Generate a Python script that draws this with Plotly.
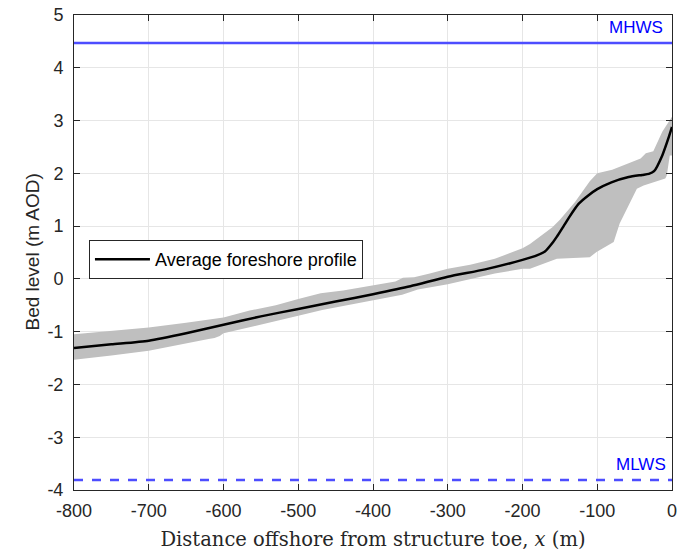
import plotly.graph_objects as go

# Average cross-shore bed profile (m AOD) against distance offshore (m)
mean_x = [-800, -750, -700, -650, -600, -550, -500, -450, -400, -350, -300, -250,
          -200, -180, -170, -159, -154, -145, -137, -125, -112, -100, -81, -58, -40, -31,
          -24, -13, -4, 0]
mean_z = [-1.31, -1.24, -1.17, -1.03, -0.87, -0.71, -0.57, -0.43, -0.29, -0.14, 0.04, 0.18,
          0.36, 0.45, 0.52, 0.70, 0.80, 1.00, 1.18, 1.42, 1.58, 1.70, 1.83, 1.93, 1.97, 1.99,
          2.04, 2.34, 2.70, 2.88]

# Envelope of surveyed profiles: upper and lower limits
upper_x = [-800, -750, -700, -650, -600, -565, -530, -500, -470, -440, -400, -370, -360,
           -345, -324, -300, -270, -237, -200, -190, -160, -150, -130, -110, -100,
           -80, -58, -42, -35, -25, -13, -4, 0]
upper_z = [-1.05, -0.99, -0.92, -0.83, -0.73, -0.60, -0.50, -0.38, -0.27, -0.22, -0.13, -0.05, 0.02,
           0.03, 0.10, 0.19, 0.27, 0.38, 0.58, 0.66, 0.98, 1.12, 1.45, 1.85, 2.00,
           2.07, 2.19, 2.28, 2.38, 2.42, 2.79, 2.98, 3.07]

lower_x = [-800, -750, -700, -650, -620, -612, -605, -600, -565, -500, -468, -400, -361, -340,
           -300, -237, -200, -190, -154, -110, -101, -78, -70, -47, -38, -9, -7, -3, 0]
lower_z = [-1.53, -1.45, -1.36, -1.22, -1.14, -1.12, -1.08, -1.03, -0.92, -0.70, -0.59, -0.41, -0.30, -0.20,
           -0.10, 0.10, 0.19, 0.19, 0.38, 0.41, 0.51, 0.70, 1.05, 1.71, 1.77, 1.90, 1.96, 2.34, 2.34]

# Tidal levels (m AOD)
MHWS = 4.47
MLWS = -3.81

x_ticks = [-800, -700, -600, -500, -400, -300, -200, -100, 0]
y_ticks = [-4, -3, -2, -1, 0, 1, 2, 3, 4, 5]

fig = go.Figure()

# Shaded envelope as a closed polygon
fig.add_trace(go.Scatter(
    x=upper_x + lower_x[::-1],
    y=upper_z + lower_z[::-1],
    fill="toself", fillcolor="#bfbfbf",
    line=dict(width=0, color="#bfbfbf"),
    mode="lines", hoverinfo="skip", showlegend=False,
))

fig.add_trace(go.Scatter(
    x=[-800, 0], y=[MHWS, MHWS], mode="lines",
    line=dict(color="#4d4dff", width=2.5), showlegend=False,
))
fig.add_trace(go.Scatter(
    x=[-800, 0], y=[MLWS, MLWS], mode="lines",
    line=dict(color="#4d4dff", width=2.5, dash="dash"), showlegend=False,
))

fig.add_trace(go.Scatter(
    x=mean_x, y=mean_z, mode="lines",
    line=dict(color="black", width=2.5, shape="spline", smoothing=0.6),
    name="Average foreshore profile",
))

fig.add_annotation(x=-10, y=MHWS, xref="x", yref="y", text="MHWS",
                   xanchor="right", yanchor="bottom", showarrow=False, yshift=4,
                   font=dict(color="#0000ff", size=17, family="Liberation Sans"))
fig.add_annotation(x=-6, y=MLWS, xref="x", yref="y", text="MLWS",
                   xanchor="right", yanchor="bottom", showarrow=False, yshift=4,
                   font=dict(color="#0000ff", size=17, family="Liberation Sans"))

# Y-axis title
fig.add_annotation(x=-0.0702, y=0.5, xref="paper", yref="paper",
                   text="Bed level (m AOD)", textangle=-90, showarrow=False,
                   xanchor="center", yanchor="middle",
                   font=dict(size=19, family="Liberation Sans", color="#262626"))

axis_common = dict(
    showline=True, linecolor="#262626", linewidth=1, mirror="ticks",
    ticks="inside", ticklen=6, tickcolor="#262626",
    showgrid=True, gridcolor="#e6e6e6", gridwidth=1, zeroline=False,
    tickfont=dict(size=18, color="#262626", family="Liberation Sans"),
    automargin=False,
)

fig.update_xaxes(range=[-800, 0], tickvals=x_ticks, ticktext=[str(v) for v in x_ticks],
                 ticklabelstandoff=4,
                 title=dict(text="Distance offshore from structure toe, <i>x</i> (m)",
                            font=dict(size=19.5, family="DejaVu Serif", color="#262626")),
                 **axis_common)
fig.update_yaxes(range=[-4, 5], tickvals=y_ticks, ticktext=[str(v) for v in y_ticks],
                 ticklabelstandoff=6,
                 **axis_common)

fig.update_layout(
    width=692, height=551,
    margin=dict(l=74, r=20, t=15, b=61),
    plot_bgcolor="white", paper_bgcolor="white",
    legend=dict(x=0.025, y=0.526, xanchor="left", yanchor="top",
                bordercolor="#262626", borderwidth=1, bgcolor="white",
                itemwidth=55,
                font=dict(size=18, family="Liberation Sans", color="black")),
)

fig.write_html("out.html")
